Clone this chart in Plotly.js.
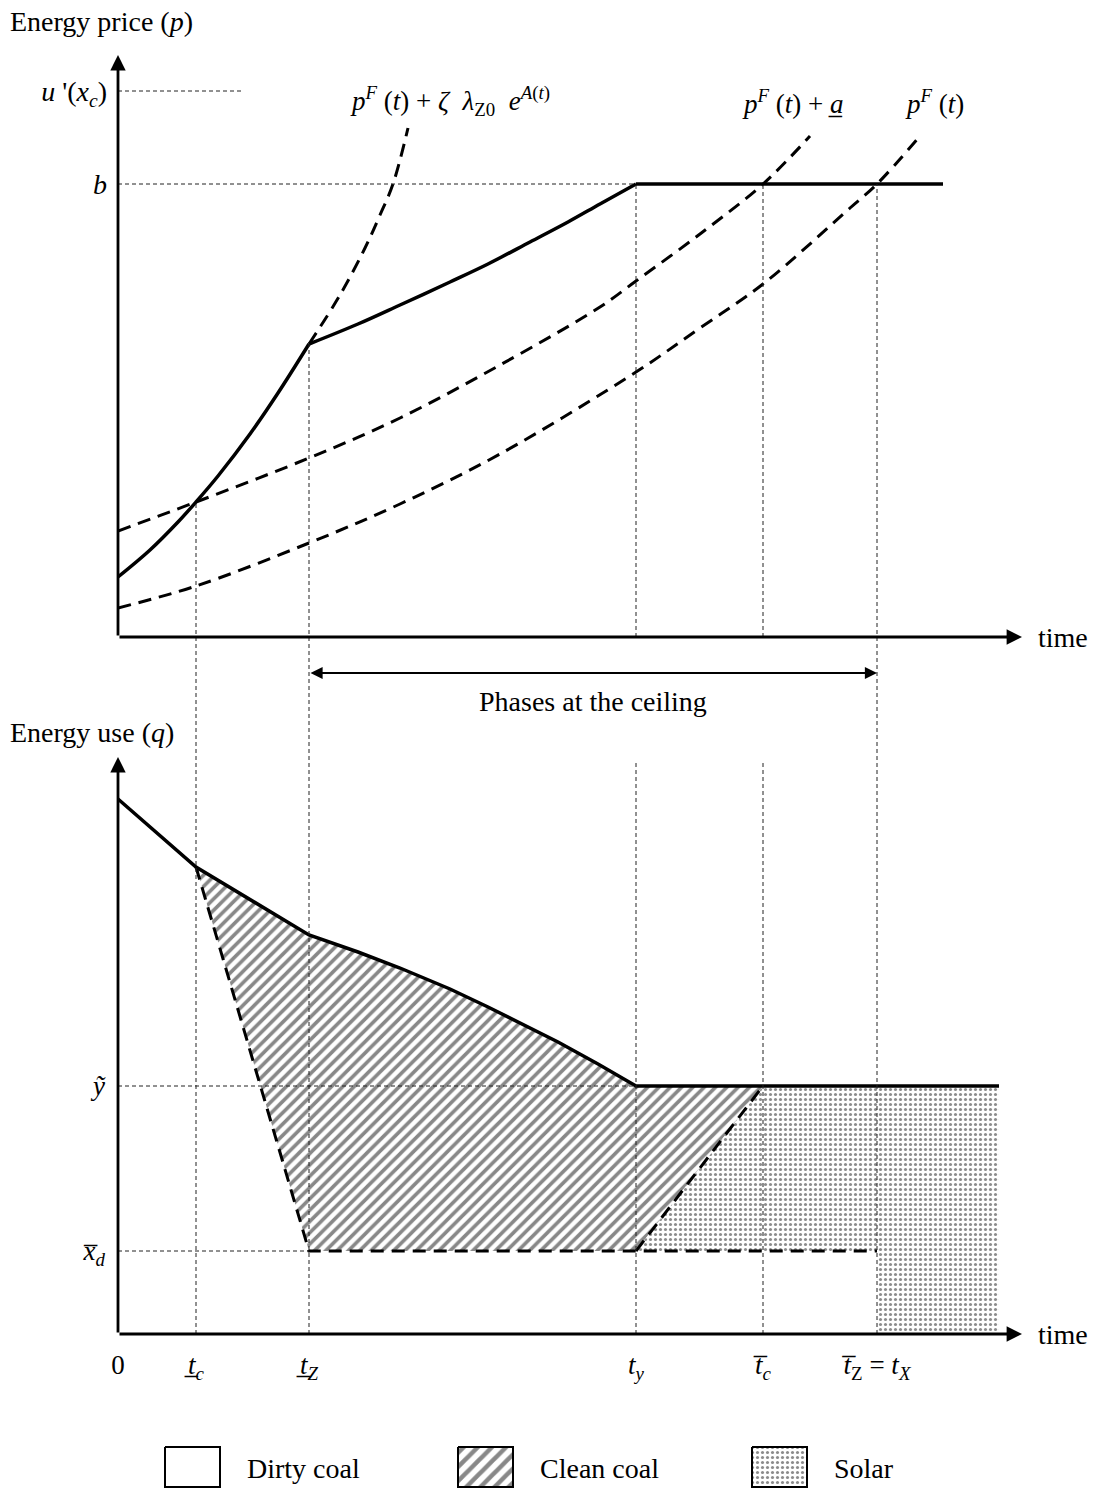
<!DOCTYPE html>
<html><head><meta charset="utf-8">
<script src="https://cdn.plot.ly/plotly-3.0.1.min.js"></script>
<style>html,body{margin:0;padding:0;background:#fff}#chart{width:1094px;height:1490px}</style>
</head><body><div id="chart"></div>
<script>
// ---------- key times (time units) ----------
const tc = 7.8, tZ = 19.1, ty = 51.8, tcBar = 64.5, tZBar = 75.9, tEndTop = 82.5, tEndBot = 88.1;
const keyTimes = [0, tc, tZ, ty, tcBar, tZBar];
const keyTimeLabels = ['0', '<i>t\u0332</i><sub><i>c</i></sub>', '<i>t\u0332</i><sub><i>Z</i></sub>',
  '<i>t</i><sub><i>y</i></sub>', '<i>t\u0305</i><sub><i>c</i></sub>', '<i>t\u0305</i><sub>Z</sub> = <i>t</i><sub><i>X</i></sub>'];

// ---------- price panel levels ----------
const bCeil = 45.3, uPrime = 54.6;
const priceTickVals = [bCeil, uPrime];
const priceTickText = ['<i>b</i>', "<i>u</i> '(<i>x</i><sub><i>c</i></sub>)"];

// solid price path (three pieces)
const priceSeg1T = [0, 3.2, 6.0, 7.8, 10.0, 13.2, 16.0, 19.1];
const priceSeg1P = [6.0, 8.7, 11.5, 13.5, 16.1, 20.3, 24.4, 29.3];
const priceSeg2T = [19.1, 24.0, 28.2, 33.2, 37.0, 41.2, 45.0, 48.2, 51.8];
const priceSeg2P = [29.3, 31.3, 33.2, 35.5, 37.3, 39.5, 41.5, 43.3, 45.3];
const ceilingT = [51.8, 82.5];
const ceilingP = [45.3, 45.3];
// dashed curves
const steepT = [19.1, 22.2, 24.7, 26.2, 27.5, 29.0];
const steepP = [29.3, 34.2, 38.9, 42.2, 45.3, 50.9];
const pfaT = [0, 7.8, 19.1, 28.2, 38.2, 48.2, 51.8, 58.2, 64.5, 69.2];
const pfaP = [10.6, 13.5, 17.9, 21.9, 27.2, 33.0, 35.6, 40.3, 45.3, 50.1];
const pfT = [0, 7.8, 19.1, 28.2, 38.2, 51.8, 58.2, 64.5, 73.2, 75.9, 80.2];
const pfP = [2.9, 5.1, 9.4, 13.3, 18.3, 26.5, 30.9, 35.3, 42.9, 45.3, 50.1];
const curveLabels = [
  '<i>p</i><sup><i>F</i></sup> (<i>t</i>) + <i>ζ</i>  <i>λ</i><sub>Z0</sub>  <i>e</i><sup><i>A</i>(<i>t</i>)</sup>',
  '<i>p</i><sup><i>F</i></sup> (<i>t</i>) + <i>a\u0332</i>',
  '<i>p</i><sup><i>F</i></sup> (<i>t</i>)'];

// ---------- energy use panel ----------
const qTilde = 24.8, xdBar = 8.3;
const useTickVals = [xdBar, qTilde];
const useTickText = ['<i>x\u0305</i><sub><i>d</i></sub>', '<i>y\u0303</i>'];
const useSolidT = [0, 7.8, 19.1, 24.0, 28.2, 33.2, 37.0, 40.7, 44.0, 48.0, 51.8, 88.1];
const useSolidQ = [53.5, 46.7, 39.9, 38.2, 36.6, 34.5, 32.7, 30.9, 29.2, 27.0, 24.8, 24.8];
const legendLabels = ['Dirty coal', 'Clean coal', 'Solar'];

// ---------- geometry ----------
const W = 1094, H = 1490;
const FONT = 'Liberation Serif, Times New Roman, serif';
const xDom = [118 / W, 1022 / W], xRange = [0, 90.4];
const topDom = [1 - 637 / H, 1 - 55 / H], topRange = [0, 58.2];
const botDom = [1 - 1334 / H, 1 - 757 / H], botRange = [0, 57.7];
const topPaper = p => topDom[0] + p / topRange[1] * (topDom[1] - topDom[0]);
const botPaper = q => botDom[0] + q / botRange[1] * (botDom[1] - botDom[0]);

const solidLine = {color: '#000', width: 3.5};
const dashLine = {color: '#000', width: 3, dash: '13px,8px'};
const hatch = {shape: '/', fgcolor: '#888', bgcolor: '#fff', size: 8, solidity: 0.45};
const dots = {shape: '.', fgcolor: '#8c8c8c', bgcolor: '#fff', size: 5, solidity: 0.3};

const traces = [];
// bottom fills
const sIdx0 = useSolidT.indexOf(tc), sIdx1 = useSolidT.indexOf(ty);
const hx = useSolidT.slice(sIdx0, sIdx1 + 1).concat([tcBar, ty, tZ, tc]);
const hy = useSolidQ.slice(sIdx0, sIdx1 + 1).concat([qTilde, xdBar, xdBar, useSolidQ[sIdx0]]);
traces.push({x: hx, y: hy, xaxis: 'x2', yaxis: 'y2', mode: 'lines', fill: 'toself', line: {width: 0},
  fillcolor: '#fff', fillpattern: hatch, hoverinfo: 'skip'});
traces.push({x: [ty, tcBar, tEndBot, tEndBot, tZBar, tZBar, ty], y: [xdBar, qTilde, qTilde, 0, 0, xdBar, xdBar],
  xaxis: 'x2', yaxis: 'y2', mode: 'lines', fill: 'toself', line: {width: 0}, fillcolor: '#fff', fillpattern: dots, hoverinfo: 'skip'});
// bottom lines
traces.push({x: useSolidT, y: useSolidQ, xaxis: 'x2', yaxis: 'y2', mode: 'lines', line: solidLine});
traces.push({x: [tc, tZ, tZBar], y: [useSolidQ[sIdx0], xdBar, xdBar], xaxis: 'x2', yaxis: 'y2', mode: 'lines', line: dashLine});
traces.push({x: [ty, tcBar], y: [xdBar, qTilde], xaxis: 'x2', yaxis: 'y2', mode: 'lines', line: dashLine});
// top curves
traces.push({x: pfT, y: pfP, mode: 'lines', line: Object.assign({shape: 'spline'}, dashLine)});
traces.push({x: pfaT, y: pfaP, mode: 'lines', line: Object.assign({shape: 'spline'}, dashLine)});
traces.push({x: steepT, y: steepP, mode: 'lines', line: Object.assign({shape: 'spline'}, dashLine)});
traces.push({x: priceSeg1T, y: priceSeg1P, mode: 'lines', line: Object.assign({shape: 'spline'}, solidLine)});
traces.push({x: priceSeg2T, y: priceSeg2P, mode: 'lines', line: Object.assign({shape: 'spline'}, solidLine)});
traces.push({x: ceilingT, y: ceilingP, mode: 'lines', line: solidLine});

// legend boxes (x3/y3 : pixel-like frame of the legend strip)
const legBoxX = [165, 458, 752], legPat = [null, hatch, dots];
legendLabels.forEach((lab, i) => {
  const x0 = legBoxX[i];
  const tr = {x: [x0, x0 + 55, x0 + 55, x0, x0], y: [17, 17, 57, 57, 17], xaxis: 'x3', yaxis: 'y3',
    mode: 'lines', fill: 'toself', fillcolor: '#fff', line: {color: '#000', width: 2}, hoverinfo: 'skip'};
  if (legPat[i]) tr.fillpattern = Object.assign({}, legPat[i], {size: legPat[i].shape === '/' ? 10 : 5});
  traces.push(tr);
});

// guides
const g = {color: '#222', width: 1, dash: '4px,3px'};
const shapes = [];
function gl(x0, y0, x1, y1, xref, yref) { shapes.push({type: 'line', x0, y0, x1, y1, xref, yref, line: g}); }
gl(0, uPrime, 12.5, uPrime, 'x', 'y');
gl(0, bCeil, ty, bCeil, 'x', 'y');
gl(ty, 0, ty, bCeil, 'x', 'y');
gl(tcBar, 0, tcBar, bCeil, 'x', 'y');
gl(tc, botPaper(0), tc, topPaper(priceSeg1P[priceSeg1T.indexOf(tc)]), 'x', 'paper');
gl(tZ, botPaper(0), tZ, topPaper(priceSeg1P[priceSeg1T.length - 1]), 'x', 'paper');
gl(tZBar, botPaper(0), tZBar, topPaper(bCeil), 'x', 'paper');
gl(ty, 0, ty, 57.4, 'x2', 'y2');
gl(tcBar, 0, tcBar, 57.4, 'x2', 'y2');
gl(0, qTilde, ty, qTilde, 'x2', 'y2');
gl(0, xdBar, tZ, xdBar, 'x2', 'y2');

const tf = {family: FONT, size: 28, color: '#000'};
const ann = [];
function arrow(x, y, ax, ay, xr, yr) {
  ann.push({x, y, ax, ay, xref: xr, yref: yr, axref: xr, ayref: yr, text: '', showarrow: true,
    arrowhead: 2, arrowsize: 1.1, arrowwidth: 2.8, arrowcolor: '#000', standoff: 0, startstandoff: 0});
}
arrow(0, topRange[1], 0, 0, 'x', 'y');
arrow(xRange[1], 0, 0, 0, 'x', 'y');
arrow(0, botRange[1], 0, 0, 'x2', 'y2');
arrow(xRange[1], 0, 0, 0, 'x2', 'y2');
// double arrow
ann.push({x: tZBar, y: 1 - 673 / H, ax: tZ, ay: 1 - 673 / H, xref: 'x', yref: 'paper', axref: 'x', ayref: 'paper',
  text: '', showarrow: true, arrowhead: 2, startarrowhead: 2, arrowside: 'end+start', arrowsize: 1.1, arrowwidth: 2.2,
  arrowcolor: '#000', standoff: 0, startstandoff: 0});
ann.push({x: (tZ + tZBar) / 2, y: 1 - 701 / H, xref: 'x', yref: 'paper', yanchor: 'middle', text: 'Phases at the ceiling', showarrow: false, font: tf});
ann.push({x: xRange[1], y: 0, xref: 'x', yref: 'y', text: 'time', showarrow: false, xanchor: 'left', yanchor: 'middle', xshift: 14, font: tf});
ann.push({x: xRange[1], y: 0, xref: 'x2', yref: 'y2', text: 'time', showarrow: false, xanchor: 'left', yanchor: 'middle', xshift: 14, font: tf});
ann.push({x: 8 / W, y: 1 - 22 / H, xref: 'paper', yref: 'paper', xanchor: 'left', yanchor: 'middle', text: 'Energy price (<i>p</i>)', showarrow: false, font: tf});
ann.push({x: 8 / W, y: 1 - 733 / H, xref: 'paper', yref: 'paper', xanchor: 'left', yanchor: 'middle', text: 'Energy use (<i>q</i>)', showarrow: false, font: tf});
const curveLabelPos = [[33.2, 53.6], [67.5, 53.5], [81.6, 53.5]];
curveLabels.forEach((t, i) => ann.push({x: curveLabelPos[i][0], y: curveLabelPos[i][1], xref: 'x', yref: 'y', text: t,
  yanchor: 'middle', showarrow: false, font: {family: FONT, size: 27, color: '#000'}}));
legendLabels.forEach((lab, i) => ann.push({x: legBoxX[i] + 80, y: 38, xref: 'x3', yref: 'y3', xanchor: 'left',
  yanchor: 'middle', text: lab, showarrow: false, font: tf}));

const hid = {showgrid: false, zeroline: false, showline: false, ticks: ''};
const layout = {
  width: W, height: H, margin: {l: 0, r: 0, t: 0, b: 0}, showlegend: false,
  paper_bgcolor: '#fff', plot_bgcolor: 'rgba(0,0,0,0)', font: {family: FONT, color: '#000'},
  xaxis: Object.assign({domain: xDom, range: xRange, showticklabels: false, anchor: 'y'}, hid),
  yaxis: Object.assign({domain: topDom, range: topRange, tickvals: priceTickVals, ticktext: priceTickText,
    tickfont: {family: FONT, size: 28}, ticklabelstandoff: 10, anchor: 'x'}, hid),
  xaxis2: Object.assign({domain: xDom, range: xRange, tickvals: keyTimes, ticktext: keyTimeLabels,
    tickfont: {family: FONT, size: 27}, ticklabelstandoff: 12, anchor: 'y2'}, hid),
  yaxis2: Object.assign({domain: botDom, range: botRange, tickvals: useTickVals, ticktext: useTickText,
    tickfont: {family: FONT, size: 27}, ticklabelstandoff: 12, anchor: 'x2'}, hid),
  xaxis3: Object.assign({domain: [0, 1], range: [0, W], showticklabels: false, anchor: 'y3'}, hid),
  yaxis3: Object.assign({domain: [0, 60 / H], range: [60, 0], showticklabels: false, anchor: 'x3'}, hid),
  shapes, annotations: ann
};
Plotly.newPlot('chart', traces, layout, {staticPlot: true});
</script></body></html>
